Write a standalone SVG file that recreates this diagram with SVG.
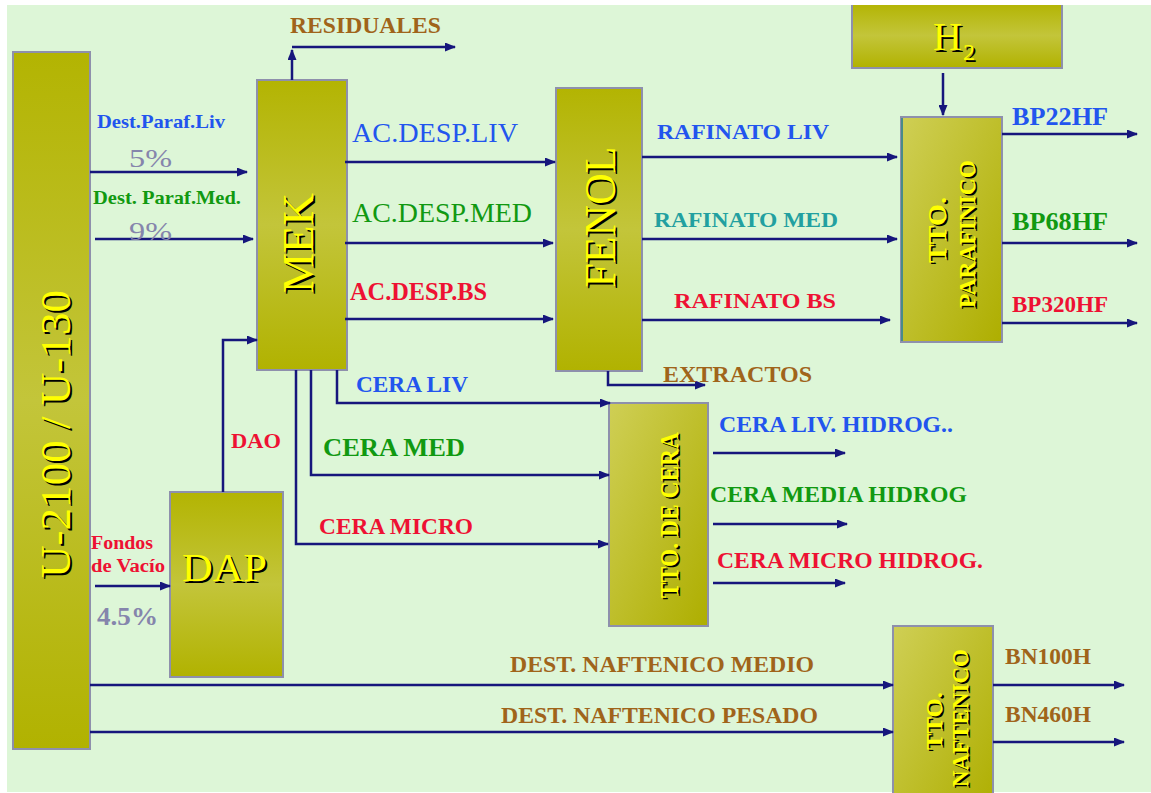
<svg xmlns="http://www.w3.org/2000/svg" width="1151" height="793" viewBox="0 0 1151 793">
<defs>
<linearGradient id="gv" x1="0" y1="0" x2="0" y2="1">
<stop offset="0" stop-color="#B3B402"/>
<stop offset="0.5" stop-color="#C3C53A"/>
<stop offset="1" stop-color="#B1B200"/>
</linearGradient>
<linearGradient id="gd" x1="0" y1="0" x2="1" y2="1">
<stop offset="0" stop-color="#CFCF55"/>
<stop offset="1" stop-color="#AEAE00"/>
</linearGradient>
<marker id="ah" markerUnits="userSpaceOnUse" markerWidth="11" markerHeight="9" refX="10" refY="4.5" orient="auto">
<path d="M0,0 L11,4.5 L0,9 z" fill="#16167C"/>
</marker>
<style>
.box{stroke:#8E90AC;stroke-width:2}
.t{font-family:"Liberation Serif","Times New Roman",serif}
.b{font-weight:bold}
.yl{fill:#FFFF00}
.sh{fill:#000}
.c line,.c path{stroke:#16167C;stroke-width:2.5;fill:none;marker-end:url(#ah)}
.blue{fill:#2255EE}
.green{fill:#119911}
.red{fill:#EE1133}
.brown{fill:#A0641A}
.gray{fill:#8585AC}
.teal{fill:#22A0A0}
</style>
</defs>
<rect x="0" y="0" width="1151" height="793" fill="#FFFFFF"/>
<rect x="7" y="5" width="1144" height="787" fill="#DDF6D7"/>

<g id="u2100">
<rect class="box" x="13" y="52" width="77" height="697" fill="url(#gv)"/>
<text class="t sh" font-size="43" text-anchor="middle" textLength="288" lengthAdjust="spacingAndGlyphs" transform="translate(72,436) rotate(-90)">U-2100  /  U-130</text>
<text class="t yl" font-size="43" text-anchor="middle" textLength="288" lengthAdjust="spacingAndGlyphs" transform="translate(70,434) rotate(-90)">U-2100  /  U-130</text>
</g>

<g id="mek">
<rect class="box" x="257" y="80" width="90" height="290" fill="url(#gv)"/>
<text class="t sh" font-size="44" text-anchor="middle" textLength="100" lengthAdjust="spacingAndGlyphs" transform="translate(315,245) rotate(-90)">MEK</text>
<text class="t yl" font-size="44" text-anchor="middle" textLength="100" lengthAdjust="spacingAndGlyphs" transform="translate(313,243) rotate(-90)">MEK</text>
</g>

<g id="fenol">
<rect class="box" x="556" y="88" width="86" height="283" fill="url(#gv)"/>
<text class="t sh" font-size="44" text-anchor="middle" textLength="141" lengthAdjust="spacingAndGlyphs" transform="translate(617,219) rotate(-90)">FENOL</text>
<text class="t yl" font-size="44" text-anchor="middle" textLength="141" lengthAdjust="spacingAndGlyphs" transform="translate(615,217) rotate(-90)">FENOL</text>
</g>

<g id="h2">
<rect class="box" x="852" y="3" width="210" height="65" fill="url(#gv)"/>
<rect x="851" y="0" width="212" height="5" fill="#FFFFFF"/>
<text class="t sh" font-size="40" x="935" y="52">H</text>
<text class="t sh" font-size="24" x="965" y="62">2</text>
<text class="t yl" font-size="40" x="933" y="50">H</text>
<text class="t yl" font-size="24" x="963" y="60">2</text>
</g>

<g id="tto-parafinico">
<rect class="box" x="901" y="117" width="101" height="225" fill="url(#gd)"/>
<line x1="902" y1="118" x2="902" y2="341" stroke="#4A8A8A" stroke-width="2"/>
<text class="t b sh" font-size="25" text-anchor="middle" textLength="66" lengthAdjust="spacingAndGlyphs" transform="translate(947.5,231.5) rotate(-90)">TTO.</text>
<text class="t b yl" font-size="25" text-anchor="middle" textLength="66" lengthAdjust="spacingAndGlyphs" transform="translate(946,230) rotate(-90)">TTO.</text>
<text class="t b sh" font-size="24" text-anchor="middle" textLength="148" lengthAdjust="spacingAndGlyphs" transform="translate(976.5,235.5) rotate(-90)">PARAFINICO</text>
<text class="t b yl" font-size="24" text-anchor="middle" textLength="148" lengthAdjust="spacingAndGlyphs" transform="translate(975,234) rotate(-90)">PARAFINICO</text>
</g>

<g id="tto-cera">
<rect class="box" x="609" y="403" width="99" height="223" fill="url(#gd)"/>
<text class="t b sh" font-size="25" text-anchor="middle" textLength="166" lengthAdjust="spacingAndGlyphs" transform="translate(679.5,516.5) rotate(-90)">TTO. DE CERA</text>
<text class="t b yl" font-size="25" text-anchor="middle" textLength="166" lengthAdjust="spacingAndGlyphs" transform="translate(678,515) rotate(-90)">TTO. DE CERA</text>
</g>

<g id="dap">
<rect class="box" x="170" y="492" width="113" height="185" fill="url(#gv)"/>
<text class="t sh" font-size="41" x="184" y="583" textLength="85" lengthAdjust="spacingAndGlyphs">DAP</text>
<text class="t yl" font-size="41" x="182" y="581" textLength="85" lengthAdjust="spacingAndGlyphs">DAP</text>
</g>

<g id="tto-naftenico">
<rect class="box" x="893" y="626" width="100" height="190" fill="url(#gd)"/>
<text class="t b sh" font-size="24" text-anchor="middle" textLength="58" lengthAdjust="spacingAndGlyphs" transform="translate(943.5,722.5) rotate(-90)">TTO.</text>
<text class="t b yl" font-size="24" text-anchor="middle" textLength="58" lengthAdjust="spacingAndGlyphs" transform="translate(942,721) rotate(-90)">TTO.</text>
<text class="t b sh" font-size="23" text-anchor="middle" textLength="138" lengthAdjust="spacingAndGlyphs" transform="translate(969.5,719.5) rotate(-90)">NAFTENICO</text>
<text class="t b yl" font-size="23" text-anchor="middle" textLength="138" lengthAdjust="spacingAndGlyphs" transform="translate(968,718) rotate(-90)">NAFTENICO</text>
</g>

<g id="connectors" class="c">
<line x1="90" y1="172" x2="247" y2="172"/>
<line x1="95" y1="239" x2="253" y2="239"/>
<line x1="95" y1="586" x2="170" y2="586"/>
<path d="M223,492 V340 H257"/>
<line x1="292" y1="80" x2="292" y2="50"/>
<line x1="292" y1="47" x2="455" y2="47"/>
<line x1="345" y1="162" x2="555" y2="162"/>
<line x1="345" y1="243" x2="553" y2="243"/>
<line x1="345" y1="319" x2="553" y2="319"/>
<line x1="642" y1="157" x2="897" y2="157"/>
<line x1="642" y1="239" x2="897" y2="239"/>
<line x1="642" y1="320" x2="890" y2="320"/>
<line x1="943" y1="73" x2="943" y2="115"/>
<line x1="1002" y1="134" x2="1137" y2="134"/>
<line x1="1002" y1="243" x2="1137" y2="243"/>
<line x1="1002" y1="323" x2="1137" y2="323"/>
<path d="M608,371 V385 H705"/>
<path d="M337,370 V403 H610"/>
<path d="M311,370 V475 H609"/>
<path d="M296,370 V544 H608"/>
<line x1="713" y1="453" x2="845" y2="453"/>
<line x1="713" y1="524" x2="847" y2="524"/>
<line x1="713" y1="583" x2="845" y2="583"/>
<line x1="90" y1="685" x2="893" y2="685"/>
<line x1="90" y1="732" x2="893" y2="732"/>
<line x1="993" y1="685" x2="1124" y2="685"/>
<line x1="993" y1="742" x2="1124" y2="742"/>
</g>

<g id="labels" class="t">
<text class="b brown" font-size="23" x="290" y="33" textLength="151" lengthAdjust="spacingAndGlyphs">RESIDUALES</text>
<text class="b blue" font-size="19" x="97" y="128" textLength="128" lengthAdjust="spacingAndGlyphs">Dest.Paraf.Liv</text>
<text class="gray" font-size="25" x="129" y="167" textLength="43" lengthAdjust="spacingAndGlyphs">5%</text>
<text class="b green" font-size="19" x="93" y="204" textLength="148" lengthAdjust="spacingAndGlyphs">Dest. Paraf.Med.</text>
<text class="gray" font-size="25" x="129" y="240" textLength="43" lengthAdjust="spacingAndGlyphs">9%</text>
<text class="b red" font-size="18" x="91" y="549" textLength="62" lengthAdjust="spacingAndGlyphs">Fondos</text>
<text class="b red" font-size="18" x="91" y="572" textLength="74" lengthAdjust="spacingAndGlyphs">de Vacío</text>
<text class="b gray" font-size="25" x="97" y="625" textLength="61" lengthAdjust="spacingAndGlyphs">4.5%</text>
<text class="b red" font-size="22" x="231" y="448" textLength="50" lengthAdjust="spacingAndGlyphs">DAO</text>
<text class="blue" font-size="27" x="352" y="142" textLength="166" lengthAdjust="spacingAndGlyphs">AC.DESP.LIV</text>
<text class="green" font-size="27" x="352" y="222" textLength="180" lengthAdjust="spacingAndGlyphs">AC.DESP.MED</text>
<text class="b red" font-size="25" x="350" y="300" textLength="137" lengthAdjust="spacingAndGlyphs">AC.DESP.BS</text>
<text class="b blue" font-size="22" x="657" y="139" textLength="172" lengthAdjust="spacingAndGlyphs">RAFINATO LIV</text>
<text class="b teal" font-size="22" x="654" y="227" textLength="184" lengthAdjust="spacingAndGlyphs">RAFINATO MED</text>
<text class="b red" font-size="22" x="674" y="308" textLength="162" lengthAdjust="spacingAndGlyphs">RAFINATO BS</text>
<text class="b blue" font-size="25" x="1012" y="125" textLength="96" lengthAdjust="spacingAndGlyphs">BP22HF</text>
<text class="b green" font-size="25" x="1012" y="230" textLength="96" lengthAdjust="spacingAndGlyphs">BP68HF</text>
<text class="b red" font-size="24" x="1012" y="312" textLength="96" lengthAdjust="spacingAndGlyphs">BP320HF</text>
<text class="b brown" font-size="23" x="663" y="382" textLength="149" lengthAdjust="spacingAndGlyphs">EXTRACTOS</text>
<text class="b blue" font-size="24" x="356" y="392" textLength="112" lengthAdjust="spacingAndGlyphs">CERA LIV</text>
<text class="b green" font-size="26" x="323" y="456" textLength="142" lengthAdjust="spacingAndGlyphs">CERA MED</text>
<text class="b red" font-size="24" x="319" y="534" textLength="154" lengthAdjust="spacingAndGlyphs">CERA MICRO</text>
<text class="b blue" font-size="23" x="719" y="432" textLength="234" lengthAdjust="spacingAndGlyphs">CERA LIV. HIDROG..</text>
<text class="b green" font-size="23" x="710" y="502" textLength="257" lengthAdjust="spacingAndGlyphs">CERA MEDIA HIDROG</text>
<text class="b red" font-size="23" x="717" y="568" textLength="266" lengthAdjust="spacingAndGlyphs">CERA MICRO HIDROG.</text>
<text class="b brown" font-size="24" x="510" y="672" textLength="304" lengthAdjust="spacingAndGlyphs">DEST. NAFTENICO MEDIO</text>
<text class="b brown" font-size="24" x="501" y="723" textLength="317" lengthAdjust="spacingAndGlyphs">DEST. NAFTENICO PESADO</text>
<text class="b brown" font-size="23" x="1005" y="664" textLength="86" lengthAdjust="spacingAndGlyphs">BN100H</text>
<text class="b brown" font-size="23" x="1005" y="722" textLength="86" lengthAdjust="spacingAndGlyphs">BN460H</text>
</g>
</svg>
